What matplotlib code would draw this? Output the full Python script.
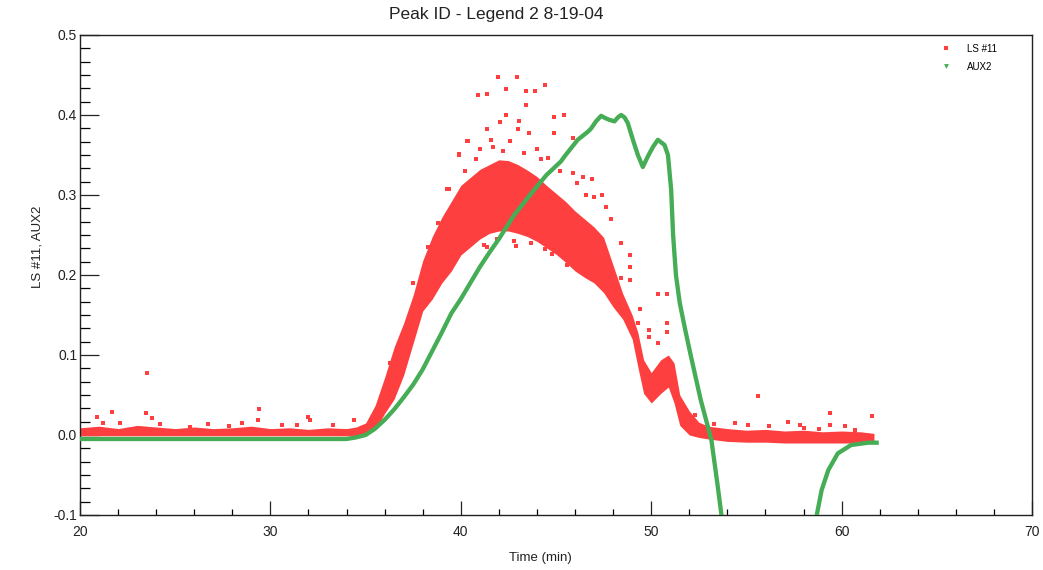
import matplotlib
matplotlib.use('Agg')
import matplotlib.pyplot as plt
from matplotlib.ticker import MultipleLocator
from matplotlib.lines import Line2D

plt.rcParams['font.family'] = ['Liberation Sans', 'DejaVu Sans']

# LS #11 dense band (lower / upper edge of the packed points)
ls_t = [20.0, 21.0, 22.0, 23.0, 24.0, 25.0, 26.0, 27.0, 28.0, 29.0, 30.0, 31.0, 32.0, 33.0,
        34.0, 34.5, 35.0, 35.5, 36.0, 36.5, 37.0,
        37.5, 38.0, 38.5, 39.0, 39.5, 40.0, 40.5, 41.0, 41.5, 42.0, 42.5, 43.0, 43.5,
        44.0, 44.5, 45.0, 45.5, 46.0, 46.5, 47.0, 47.5, 48.0, 48.5, 49.0, 49.3, 49.6,
        50.0, 50.5, 50.9, 51.2, 51.5, 52.0, 52.5, 53.0, 54.0, 55.0, 56.0, 57.0, 58.0,
        59.0, 60.0, 61.0, 61.7]
ls_lo = [-0.001, -0.001, -0.001, -0.001, -0.001, -0.001, -0.001, -0.001, -0.001, -0.001,
         -0.001, -0.001, -0.001, -0.001, -0.001, -0.001, 0.0, 0.006,
         0.027, 0.045, 0.075, 0.115, 0.155, 0.17, 0.19, 0.205, 0.225, 0.235, 0.245, 0.252,
         0.255, 0.255, 0.252, 0.248, 0.242, 0.234, 0.226, 0.216, 0.205, 0.197, 0.19, 0.178,
         0.16, 0.145, 0.12, 0.085, 0.052, 0.04, 0.052, 0.06, 0.04, 0.012, 0.0, -0.003,
         -0.005, -0.008, -0.009, -0.009, -0.01, -0.01, -0.01, -0.01, -0.01, -0.01]
ls_hi = [0.009, 0.011, 0.008, 0.012, 0.010, 0.008, 0.010, 0.008, 0.009, 0.011, 0.008,
         0.009, 0.007, 0.009, 0.008, 0.010, 0.015, 0.037,
         0.072, 0.11, 0.14, 0.175, 0.218, 0.248, 0.272, 0.292, 0.312, 0.322, 0.332, 0.338,
         0.344, 0.343, 0.338, 0.331, 0.323, 0.312, 0.302, 0.292, 0.28, 0.27, 0.26, 0.247,
         0.212, 0.177, 0.15, 0.128, 0.094, 0.078, 0.094, 0.10, 0.09, 0.05, 0.03, 0.016,
         0.011, 0.008, 0.006, 0.007, 0.005, 0.006, 0.004, 0.005, 0.004, 0.002]

# LS #11 scattered points outside the band
out_t = [23.5, 20.9, 21.7, 21.2, 23.46, 23.8, 24.2, 29.4, 29.35, 28.5, 32.0, 32.1, 34.4,
         33.3, 25.8, 27.8, 22.1, 26.7, 30.6, 31.4,
         41.93, 42.93, 42.4, 44.4, 43.4, 43.9, 40.9, 41.4, 43.4, 42.4, 44.9, 45.4, 42.05,
         43.07, 41.4, 43.0, 43.6, 44.9, 40.4, 45.9, 41.6, 42.6, 39.9, 41.0, 44.0, 44.6,
         39.4, 45.9, 46.4, 46.9, 47.0, 47.4, 47.9, 48.4, 48.9, 42.8, 43.7, 41.9, 41.4,
         44.4, 38.8, 39.6, 39.3, 39.9, 40.35, 38.3, 37.5, 40.8, 41.7, 42.2, 43.3, 44.2,
         45.2, 46.1, 46.6, 47.6, 40.2, 41.2, 42.9, 44.8, 45.6, 47.2, 48.1, 36.3, 37.0,
         48.9, 48.4, 48.9, 50.35, 50.84, 49.4, 49.33, 49.86, 50.84, 50.84, 50.35, 49.9,
         55.6, 59.4, 61.6, 59.4, 57.2, 54.4, 53.3, 56.2, 58.0, 58.8, 52.3, 60.7, 55.1,
         57.8, 60.2]
out_y = [0.077, 0.023, 0.029, 0.015, 0.028, 0.0217, 0.0134, 0.0325, 0.019, 0.0154, 0.023,
         0.019, 0.019, 0.0125, 0.0104, 0.011, 0.015, 0.014, 0.013, 0.012,
         0.447, 0.448, 0.433, 0.438, 0.43, 0.43, 0.425, 0.426, 0.413, 0.40, 0.397, 0.40,
         0.391, 0.392, 0.383, 0.383, 0.377, 0.377, 0.3675, 0.371, 0.369, 0.367, 0.351,
         0.358, 0.358, 0.346, 0.308, 0.327, 0.322, 0.32, 0.298, 0.30, 0.27, 0.24, 0.225,
         0.242, 0.24, 0.245, 0.235, 0.232, 0.265, 0.285, 0.308, 0.35, 0.367, 0.235, 0.19,
         0.345, 0.36, 0.355, 0.352, 0.345, 0.33, 0.315, 0.30, 0.285, 0.33, 0.238, 0.236,
         0.226, 0.212, 0.195, 0.19, 0.09, 0.125,
         0.21, 0.196, 0.194, 0.176, 0.176, 0.158, 0.14, 0.131, 0.14, 0.129, 0.115, 0.123,
         0.049, 0.027, 0.024, 0.0125, 0.0167, 0.0146, 0.0134, 0.011, 0.009, 0.007, 0.025,
         0.0063, 0.012, 0.013, 0.011]

# AUX2 trace
aux_t = [20.0, 34.0, 34.5, 35.0, 35.5, 36.0, 36.5, 37.0, 37.5, 38.0, 38.5, 39.0, 39.5,
         40.0, 40.5, 41.0, 41.5, 42.0, 42.8, 43.7, 44.5, 45.26, 45.44, 46.14, 46.67, 46.84,
         47.1, 47.37, 47.6, 47.8, 48.07, 48.25, 48.42, 48.6, 48.77, 49.04, 49.3, 49.56,
         49.82, 50.09, 50.35, 50.7, 50.88, 51.05, 51.15, 51.3, 51.5, 51.8, 52.1, 52.6,
         53.16, 53.5, 53.7, 53.85, 58.55, 58.68, 58.95, 59.3, 59.8, 60.5, 61.4, 61.84]
aux_y = [-0.005, -0.005, -0.003, 0.0, 0.008, 0.019, 0.032, 0.047, 0.063, 0.082, 0.105,
         0.128, 0.152, 0.17, 0.19, 0.21, 0.228, 0.245, 0.275, 0.302, 0.325, 0.342, 0.348,
         0.369, 0.379, 0.383, 0.392, 0.399, 0.396, 0.394, 0.392, 0.397, 0.40, 0.397, 0.39,
         0.369, 0.35, 0.335, 0.348, 0.36, 0.369, 0.3625, 0.35, 0.306, 0.25, 0.20, 0.165,
         0.13, 0.097, 0.044, -0.006, -0.065, -0.102, -0.125, -0.125, -0.102, -0.069,
         -0.044, -0.023, -0.0125, -0.0096, -0.0096]

red = '#fd3f3f'
green = '#45ad55'

fig = plt.figure(figsize=(10.43, 5.70), dpi=100)
ax = fig.add_axes([80 / 1043, 1 - 515 / 570, 952 / 1043, 480 / 570])

ax.fill_between(ls_t, ls_lo, ls_hi, color=red, linewidth=0, zorder=2)
ax.plot(out_t, out_y, 's', color=red, markersize=3.3, markeredgewidth=0, zorder=2)
ax.plot(aux_t, aux_y, '-', color=green, linewidth=3.1, zorder=3, solid_joinstyle='round')

ax.set_xlim(20, 70)
ax.set_ylim(-0.1, 0.5)
ax.xaxis.set_major_locator(MultipleLocator(10))
ax.xaxis.set_minor_locator(MultipleLocator(2))
ax.yaxis.set_major_locator(MultipleLocator(0.1))
ax.yaxis.set_minor_locator(MultipleLocator(0.1 / 6))
ax.yaxis.set_major_formatter(matplotlib.ticker.FormatStrFormatter('%.1f'))

ax.tick_params(axis='x', which='major', direction='in', length=10, width=0.9, pad=7,
               labelsize=10, colors='#222222')
ax.tick_params(axis='x', which='minor', direction='in', length=4.5, width=0.9)
ax.tick_params(axis='y', which='major', direction='in', length=14, width=0.9, pad=2,
               labelsize=10, colors='#222222')
ax.tick_params(axis='y', which='minor', direction='in', length=7, width=0.9)
for s in ax.spines.values():
    s.set_linewidth(1.0)
    s.set_color('#222222')

handles = [Line2D([], [], marker='s', linestyle='', color=red, markersize=3.5,
                  markeredgewidth=0, label='LS #11'),
           Line2D([], [], marker='v', linestyle='', color=green, markersize=3.5,
                  markeredgewidth=0, label='AUX2')]
ax.legend(handles=handles, loc='upper right', bbox_to_anchor=(0.972, 1.0), frameon=False,
          fontsize=7, handlelength=1.0, handletextpad=1.6, labelspacing=0.8)

fig.text(496 / 1043, 1 - 15 / 570, 'Peak ID - Legend 2 8-19-04', ha='center', va='center',
         fontsize=12.5, color='#222222')
fig.text(540 / 1043, 1 - 558 / 570, 'Time (min)', ha='center', va='center', fontsize=9.5,
         color='#222222')
fig.text(38 / 1043, 1 - 247 / 570, 'LS #11, AUX2', ha='center', va='center', rotation=90,
         fontsize=9.5, color='#222222')

fig.savefig('out.png', dpi=100)
